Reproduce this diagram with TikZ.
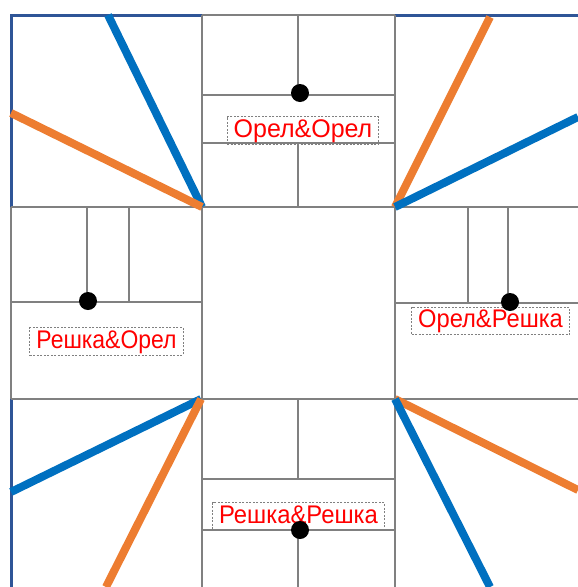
\documentclass[tikz,border=0pt]{standalone}
\usepackage{fontspec}
\usepackage{graphicx}
\setmainfont{Liberation Sans}
\definecolor{rayblue}{RGB}{0,112,192}
\definecolor{rayorange}{RGB}{237,125,49}
\definecolor{frameblue}{RGB}{47,85,151}
\definecolor{gridgray}{RGB}{128,128,128}
\begin{document}
\begin{tikzpicture}[x=1pt,y=-1pt,
    cell/.style={gridgray,line width=2.4pt},
    frame/.style={frameblue,line width=3pt},
    ray/.style={line width=8pt},
    coin/.style={circle,fill=black,inner sep=0pt,minimum size=18pt},
    outcome/.style={draw=gridgray,dash pattern=on 2pt off 1.5pt,line width=1pt,
        text=red,font=\fontsize{25.5}{30}\selectfont,inner xsep=6.5pt,inner ysep=2pt,
        text height=18.5pt,text depth=5pt}]
    \useasboundingbox (0,0) rectangle (578,587);
    % corners of the middle square
    \coordinate (tl) at (202,207);
    \coordinate (tr) at (395,207);
    \coordinate (bl) at (201,399);
    \coordinate (br) at (395,399);
    % outer frame
    \draw[frame] (202,15) -- (11,15) -- (11,207);
    \draw[frame] (395,15) -- (578,15);
    \draw[frame] (11,399) -- (11,587);
    % cells
    \draw[cell] (202,15) -- (395,15);
    \foreach \y in {207,399}{
        \draw[cell] (11,\y) -- (578,\y);
    }
    \foreach \x in {202,395}{
        \draw[cell] (\x,15) -- (\x,587);
    }
    \draw[cell] (11,207) -- (11,399);
    % top middle
    \foreach \y in {95,143,479,530}{
        \draw[cell] (202,\y) -- (395,\y);
    }
    \draw[cell] (298,15) -- (298,95);
    \draw[cell] (298,143) -- (298,207);
    \draw[cell] (298,399) -- (298,479);
    \draw[cell] (298,530) -- (298,587);
    % left and right
    \foreach \x in {87,129}{
        \draw[cell] (\x,207) -- (\x,302);
    }
    \draw[cell] (11,302) -- (202,302);
    \foreach \x in {468,508}{
        \draw[cell] (\x,207) -- (\x,303);
    }
    \draw[cell] (395,303) -- (578,303);
    % rays
    \draw[ray,rayblue] (tl) -- (108,15);
    \draw[ray,rayorange] (tl) -- (11,113);
    \draw[ray,rayorange] (tr) -- (490,17);
    \draw[ray,rayblue] (tr) -- (578,117);
    \draw[ray,rayblue] (bl) -- (11,492);
    \draw[ray,rayorange] (bl) -- (106,587);
    \draw[ray,rayorange] (br) -- (578,490);
    \draw[ray,rayblue] (br) -- (490,587);
    % outcomes
    \node[outcome] (oo) at (303,130.5) {\scalebox{0.98}[1]{Орел\&Орел}};
    \node[outcome] (ro) at (106.5,341.5) {\scalebox{0.9}[1]{Решка\&Орел}};
    \node[outcome] (or) at (490.5,321) {\scalebox{0.93}[1]{Орел\&Решка}};
    \node[outcome] (rr) at (298.5,516.5) {\scalebox{0.935}[1]{Решка\&Решка}};
    \node[coin] (c1) at (300,93) {};
    \node[coin] (c2) at (88,301) {};
    \node[coin] (c3) at (510,302) {};
    \node[coin] (c4) at (300,530) {};
\end{tikzpicture}
\end{document}
